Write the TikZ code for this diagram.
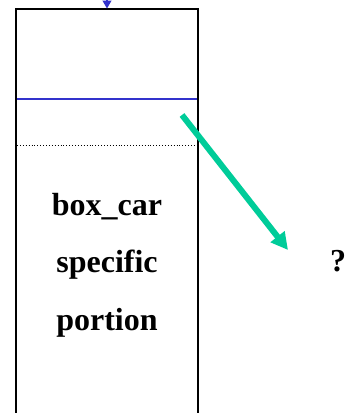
\documentclass[tikz,border=0pt]{standalone}
\usepackage{fontspec}
\setmainfont{Liberation Serif}
\usepackage{tikz}
\usetikzlibrary{arrows.meta, positioning}
\definecolor{linkblue}{HTML}{3333CC}
\definecolor{seagreen}{HTML}{00CC99}
\tikzset{
  label/.style={font=\fontsize{32}{38}\selectfont\bfseries, inner sep=0pt, anchor=base},
  frame/.style={line width=1.5pt, black}
}
\begin{document}
\begin{tikzpicture}[x=1pt, y=-1pt]
    \useasboundingbox (0,0) rectangle (349,413);
    \clip (0,0) rectangle (349,413);
    % Record frame (runs off the bottom)
    \coordinate (tl) at (16,9);
    \coordinate (tr) at (198,9);
    \coordinate (bl) at (16,420);
    \coordinate (br) at (198,420);
    \draw[frame] (bl) -- (tl) -- (tr) -- (br);
    % Incoming pointer
    \coordinate (in) at (107,-20);
    \coordinate (top) at (107,8.5);
    \draw[linkblue, line width=1.2pt, -{Triangle[length=8pt, width=9pt]}] (in) -- (top);
    % Field separators
    \coordinate (sl) at (17,99);
    \coordinate (sr) at (197,99);
    \draw[linkblue, line width=1.2pt] (sl) -- (sr);
    \coordinate (dl) at (17,145);
    \coordinate (dr) at (197,145);
    \draw[dotted, line width=0.9pt] (dl) -- (dr);
    % Specific portion
    \node[label] (l1) at (107,215) {box\_car};
    \node[label] (l2) at (107,272) {specific};
    \node[label] (l3) at (107,330) {portion};
    % Unknown target
    \node[label] (q) at (338,271) {?};
    \coordinate (from) at (182,115);
    \coordinate (to) at (288,250);
    \draw[seagreen, line width=6pt, -{Triangle[length=17pt, width=17pt]}] (from) -- (to);
\end{tikzpicture}
\end{document}
